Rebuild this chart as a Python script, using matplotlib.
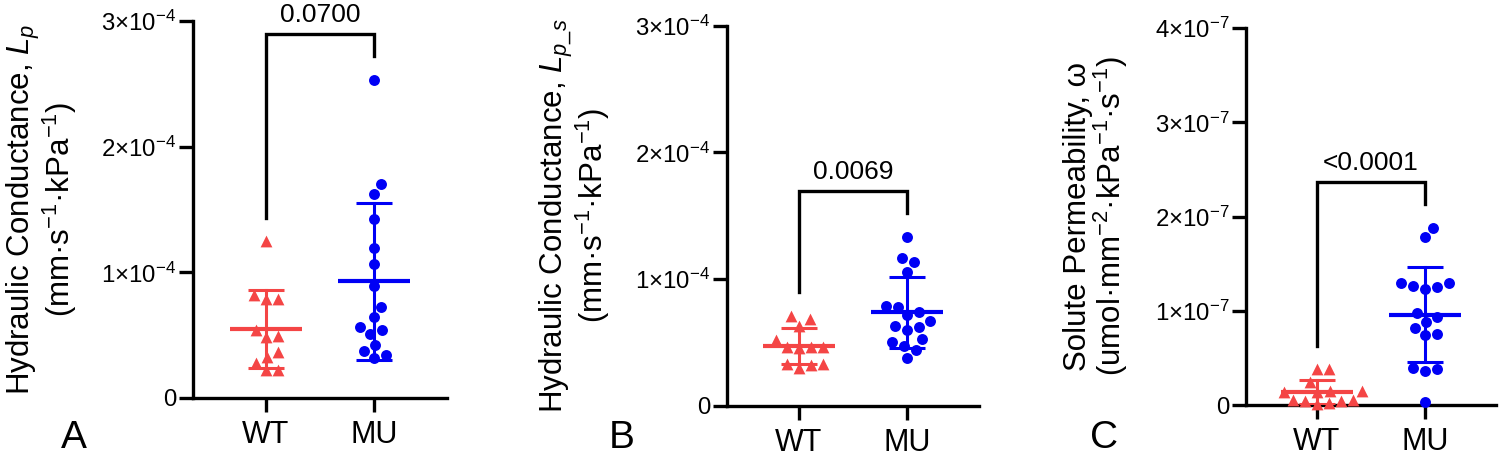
import matplotlib
matplotlib.use("Agg")
import matplotlib.pyplot as plt
import numpy as np

plt.rcParams['font.family'] = ['Liberation Sans', 'DejaVu Sans']
plt.rcParams['mathtext.fontset'] = 'custom'
plt.rcParams['mathtext.rm'] = 'Liberation Sans'
plt.rcParams['mathtext.it'] = 'Liberation Sans:italic'
plt.rcParams['mathtext.bf'] = 'Liberation Sans:bold'

groups = ['WT', 'MU']

# panel A: Lp, units of 1e-4 mm/s/kPa
wt_lp = [1.247, 0.788, 0.822, 0.788, 0.496, 0.544, 0.485, 0.366, 0.326, 0.22, 0.28, 0.22]
mu_lp = [2.533, 1.706, 1.626, 1.424, 1.196, 1.066, 0.894, 0.724, 0.645, 0.544,
         0.565, 0.509, 0.419, 0.371, 0.318, 0.345]
# panel B: Lp_s, units of 1e-4
wt_lps = [0.708, 0.682, 0.632, 0.518, 0.453, 0.466, 0.466, 0.466, 0.326, 0.321, 0.326, 0.295]
mu_lps = [1.334, 1.132, 1.168, 1.053, 0.787, 0.781, 0.737, 0.716, 0.671, 0.619,
          0.629, 0.597, 0.526, 0.505, 0.471, 0.440, 0.374]
# panel C: omega, units of 1e-7
wt_om = [0.379, 0.379, 0.248, 0.141, 0.141, 0.152, 0.145, 0.042, 0.042, 0.053,
         0.053, 0.01, 0.025]
mu_om = [1.882, 1.787, 1.267, 1.299, 1.231, 1.256, 1.299, 0.938, 0.973, 0.885,
         0.821, 0.754, 0.740, 0.393, 0.358, 0.386, 0.029]

pvals = ['0.0700', '0.0069', '<0.0001']
letters = ['A', 'B', 'C']
ylabels = ['Hydraulic Conductance, $L_p$\n(mm·s$^{-1}$·kPa$^{-1}$)',
           'Hydraulic Conductance, $L_{p\\_s}$\n(mm·s$^{-1}$·kPa$^{-1}$)',
           'Solute Permeability, ω\n(umol·mm$^{-2}$·kPa$^{-1}$·s$^{-1}$)']
ymaxes = [3, 3, 4]
exps = [-4, -4, -7]

RED = '#F44545'
BLUE = '#0000F5'
LW = 2.4

fig = plt.figure(figsize=(15, 4.57), dpi=100)
W, H = 1500, 457

# axes boxes in pixels: x0, y_zero, width, height
boxes = [(193, 398, 254, 377), (727, 405.7, 252, 380), (1246, 405, 250, 376.8)]
label_x = [-0.45, -0.456, -0.464]
letter_x = [61, 609, 1090]


def swarm(ax, x0, vals, diam):
    pts = ax.transData.transform(np.column_stack([np.full(len(vals), x0), vals]))
    ys = pts[:, 1]
    offs = np.zeros(len(vals))
    placed = []
    for i in np.argsort(ys):
        for k in range(200):
            cands = [0.0] if k == 0 else [k * 1.0, -k * 1.0]
            done = False
            for c in cands:
                if all((c - px) ** 2 + (ys[i] - py) ** 2 >= diam ** 2 for px, py in placed):
                    offs[i] = c
                    placed.append((c, ys[i]))
                    done = True
                    break
            if done:
                break
    ppu = ax.transData.transform((1, 0))[0] - ax.transData.transform((0, 0))[0]
    return x0 + offs / ppu


datasets = [(wt_lp, mu_lp), (wt_lps, mu_lps), (wt_om, mu_om)]

for k, (wt, mu) in enumerate(datasets):
    x0, yz, w, h = boxes[k]
    ax = fig.add_axes([x0 / W, (H - yz) / H, w / W, h / H])
    half = (w / 108.0 - 1) / 2
    ax.set_xlim(-half, 1 + half)
    ax.set_ylim(0, ymaxes[k])
    for s in ['top', 'right']:
        ax.spines[s].set_visible(False)
    for s in ['left', 'bottom']:
        ax.spines[s].set_linewidth(LW)
    ax.set_xticks([0, 1])
    ax.set_xticklabels(groups, fontsize=22)
    ax.set_yticks(range(ymaxes[k] + 1))
    ax.set_yticklabels(['0'] + ['$%d{\\times}10^{%d}$' % (t, exps[k]) for t in range(1, ymaxes[k] + 1)],
                       fontsize=17.3)
    ax.tick_params(axis='y', width=LW, length=10, pad=2)
    ax.tick_params(axis='x', width=LW, length=10, pad=6)
    ax.set_ylabel(ylabels[k], fontsize=22.5, linespacing=0.95)
    ax.yaxis.set_label_coords(label_x[k], 0.5)

    for g, (vals, col, mk, ms) in enumerate([(wt, RED, '^', 72), (mu, BLUE, 'o', 62)]):
        vals = np.asarray(vals)
        xs = swarm(ax, g, vals, 12)
        ax.scatter(xs, vals, s=ms, marker=mk, color=col, linewidths=0, zorder=3, clip_on=False)
        m, sd = vals.mean(), vals.std(ddof=1)
        ax.plot([g - 0.33, g + 0.33], [m, m], color=col, lw=3, zorder=4, solid_capstyle='butt')
        ax.plot([g, g], [m - sd, m + sd], color=col, lw=2.2, zorder=4)
        for yy in (m - sd, m + sd):
            ax.plot([g - 0.165, g + 0.165], [yy, yy], color=col, lw=2.2, zorder=4,
                    solid_capstyle='butt')

    top = max(max(wt), max(mu)) + 0.12 * ymaxes[k]
    leg_wt = max(wt) + 0.062 * ymaxes[k]
    leg_mu = max(mu) + 0.062 * ymaxes[k]
    ax.plot([0, 0, 1, 1], [leg_wt, top, top, leg_mu], color='black', lw=LW, zorder=2,
            clip_on=False, solid_joinstyle='miter')
    ax.annotate(pvals[k], (0.5, top), xytext=(0, 9), textcoords='offset points',
                ha='center', va='baseline', fontsize=19, annotation_clip=False)

    fig.text(letter_x[k] / W, 0.5 / H, letters[k], fontsize=28, ha='left', va='bottom')

fig.savefig('out.png', dpi=100)
